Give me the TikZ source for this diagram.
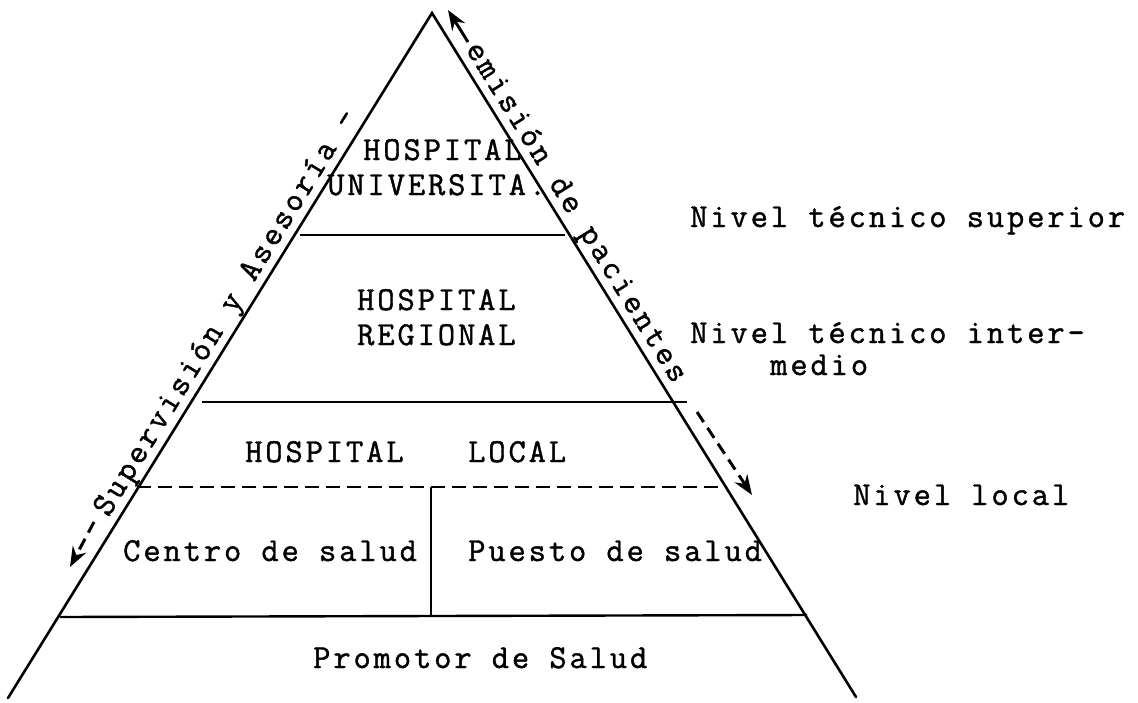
\documentclass[tikz,border=0pt]{standalone}
\usepackage{fontspec}
\newfontfamily\tw{Latin Modern Mono}[LetterSpace=8.7, FakeBold=1.2]
\newcommand\twfont{\tw\fontsize{33.5}{36}\selectfont}
\usetikzlibrary{arrows.meta}
\begin{document}
\begin{tikzpicture}[x=1pt,y=-1pt,
  edge/.style={line width=2.6pt, line cap=round},
  rule/.style={line width=2.4pt},
  dashrule/.style={line width=2.4pt, dash pattern=on 14pt off 7pt},
  lbl/.style={font=\twfont, inner sep=0pt, anchor=base west},
  side/.style={font=\twfont, inner sep=1.5pt, sloped, above},
  flow/.style={line width=3pt, dash pattern=on 12pt off 7pt, -{Stealth[length=20pt,width=15pt]}},
  tipflow/.style={line width=3pt, -{Stealth[length=20pt,width=15pt]}}]
\useasboundingbox (0,0) rectangle (1138,702);
% pyramid
\coordinate (A) at (432,13);
\coordinate (BL) at (8,698);
\coordinate (BR) at (856,697);
\draw[edge] (BL) -- (A) -- (BR);
% level lines
\coordinate (l1a) at (300,235); \coordinate (l1b) at (565,235);
\coordinate (l2a) at (202,402); \coordinate (l2b) at (687,402);
\coordinate (l3a) at (137,487); \coordinate (l3b) at (724,487);
\coordinate (l3m) at (431,487); \coordinate (l4m) at (431,616);
\coordinate (l4a) at (60,617);  \coordinate (l4b) at (807,615);
\draw[rule] (l1a) -- (l1b);
\draw[rule] (l2a) -- (l2b);
\draw[dashrule] (l3a) -- (l3b);
\draw[rule] (l3m) -- (l4m);
\draw[rule] (l4a) -- (l4b);
% texts inside
\node[lbl] (hu1) at (363,160) {HOSPITAL};
\node[lbl] (hu2) at (327,195) {UNIVERSITA.};
\node[lbl] (hr1) at (357,310) {HOSPITAL};
\node[lbl] (hr2) at (357,345) {REGIONAL};
\node[lbl] (hl1) at (245,462) {HOSPITAL};
\node[lbl] (hl2) at (468,462) {LOCAL};
\node[lbl] (cs) at (123,561) {Centro de salud};
\node[lbl] (ps) at (468,561) {Puesto de salud};
\node[lbl] (pr) at (313,668) {Promotor de Salud};
% level names
\node[lbl] (n1) at (690,227) {Nivel técnico superior};
\node[lbl] (n2) at (690,343) {Nivel técnico inter-};
\node[lbl] (n3) at (770,375) {medio};
\node[lbl] (n4) at (853,505) {Nivel local};
% side labels
\path (BL) -- (A) node[side, pos=0.549] (sup) {Supervisión y Asesoría -};
\path (A) -- (BR) node[side, pos=0.305] (rem) {emisión de pacientes};
% arrows
\coordinate (fa1) at (94,522); \coordinate (fa2) at (70,567);
\coordinate (fb1) at (697,412); \coordinate (fb2) at (752,495);
\coordinate (fc1) at (468,42);  \coordinate (fc2) at (448,10);
\draw[flow] (fa1) -- (fa2);
\draw[flow] (fb1) -- (fb2);
\draw[tipflow] (fc1) -- (fc2);
\end{tikzpicture}
\end{document}
